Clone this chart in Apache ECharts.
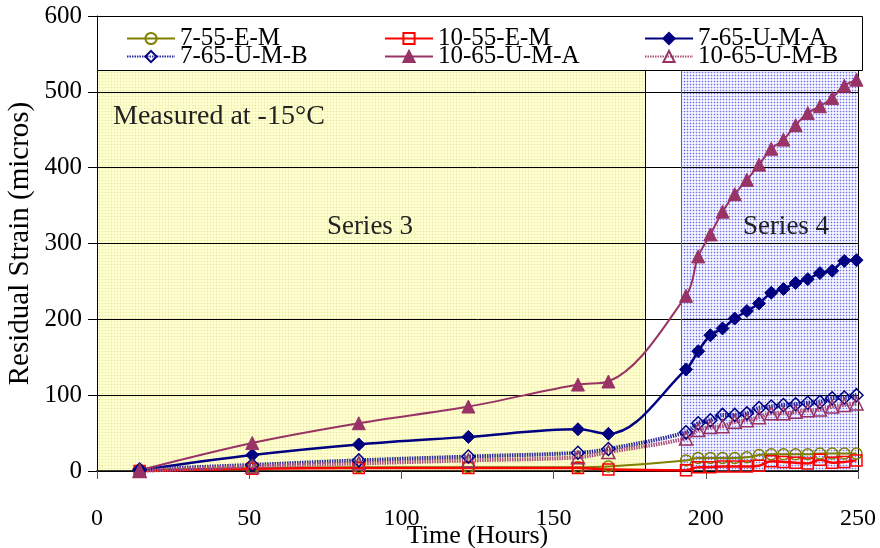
<!DOCTYPE html>
<html>
<head>
<meta charset="utf-8">
<script src="https://cdn.jsdelivr.net/npm/echarts@6/dist/echarts.min.js"></script>
<style>
  html, body { margin: 0; padding: 0; background: #fff; }
  #chart { width: 880px; height: 548px; }
</style>
</head>
<body>
<div id="chart"></div>
<script>
// Elapsed time of each reading (hours)
const hours = [14, 51, 86, 122, 158, 168,
  193.5, 197.5, 201.5, 205.5, 209.5, 213.5, 217.5, 221.5, 225.5, 229.5, 233.5, 237.5, 241.5, 245.5, 249.5];

// Residual strain readings (micros) per specimen
const s7_55_E_M   = [1, 4, 5, 5, 5, 6, 14, 17, 17, 17, 17, 18, 21, 22, 22, 22, 22, 23, 23, 23, 23];
const s10_55_E_M  = [0, 3, 4, 4, 4, 2, 1, 5, 5, 6, 6, 6, 7, 13, 12, 11, 10, 15, 11, 12, 14];
const s7_65_U_M_A = [1, 21, 35, 45, 55, 49, 134, 158, 179, 188, 201, 211, 221, 235, 240, 248, 253, 261, 264, 277, 278];
const s7_65_U_M_B = [2, 8, 14, 19, 24, 29, 51, 63, 67, 74, 74, 76, 83, 85, 87, 88, 90, 91, 96, 97, 100];
const s10_65_U_M_A = [1, 37, 63, 85, 114, 118, 231, 283, 312, 342, 365, 384, 404, 425, 437, 456, 472, 481, 492, 508, 516];
const s10_65_U_M_B = [0, 6, 10, 14, 18, 25, 43, 54, 58, 59, 65, 67, 71, 76, 76, 78, 80, 81, 85, 87, 89];

const seriesNames = ['7-55-E-M', '10-55-E-M', '7-65-U-M-A', '7-65-U-M-B', '10-65-U-M-A', '10-65-U-M-B'];

// Test phases (hours)
const series3Span = [0, 180];
const series4Span = [192, 250];

const xTicks = { min: 0, max: 250, step: 50 };
const yTicks = { min: 0, max: 600, step: 100 };

const FONT = '"Liberation Serif", "Times New Roman", serif';

function pairs(vals) { return hours.map((h, i) => [h, vals[i]]); }

// Fine dotted fills for the two phase bands
function makePattern(bg, line, dot) {
  const c = document.createElement('canvas');
  c.width = 3; c.height = 3;
  const g = c.getContext('2d');
  g.fillStyle = bg; g.fillRect(0, 0, 3, 3);
  g.fillStyle = line;
  g.fillRect(0, 0, 3, 1);
  g.fillRect(0, 0, 1, 3);
  g.fillStyle = dot; g.fillRect(0, 0, 1, 1);
  return c;
}
const yellowFill = makePattern('#ffffd4', '#fbfbc2', '#e4e4ac');
const blueFill = makePattern('#f6f6ff', '#d6d6fc', '#6c6cf0');

const chart = echarts.init(document.getElementById('chart'), null, { renderer: 'canvas' });

function lineSeries(name, vals, opt) {
  return Object.assign({
    name: name,
    type: 'line',
    data: pairs(vals),
    smooth: 0.35,
    z: 2
  }, opt);
}

const styles = [
  { symbol: 'circle', symbolSize: 11, lineStyle: { color: '#808000', width: 2 },
    itemStyle: { color: 'rgba(255,255,255,0)', borderColor: '#808000', borderWidth: 1.5 } },
  { symbol: 'rect', symbolSize: 11, lineStyle: { color: '#ff0000', width: 2.5 },
    itemStyle: { color: 'rgba(255,255,255,0)', borderColor: '#ff0000', borderWidth: 1.5 } },
  { symbol: 'diamond', symbolSize: 13, lineStyle: { color: '#000080', width: 2.5 },
    itemStyle: { color: '#000080', borderColor: '#000080', borderWidth: 1 } },
  { symbol: 'diamond', symbolSize: 13, lineStyle: { color: '#2a2a9c', width: 4, type: [1.5, 1] },
    itemStyle: { color: 'rgba(255,255,255,0)', borderColor: '#000080', borderWidth: 1.5 } },
  { symbol: 'triangle', symbolSize: 13, lineStyle: { color: '#993366', width: 2 },
    itemStyle: { color: '#993366', borderColor: '#993366', borderWidth: 1 } },
  { symbol: 'triangle', symbolSize: 13, lineStyle: { color: '#a8507e', width: 4, type: [1.5, 1] },
    itemStyle: { color: 'rgba(255,255,255,0)', borderColor: '#993366', borderWidth: 1.5 } }
];
const allVals = [s7_55_E_M, s10_55_E_M, s7_65_U_M_A, s7_65_U_M_B, s10_65_U_M_A, s10_65_U_M_B];

const series = [
  // phase bands and their boundary lines
  {
    name: 'phases',
    type: 'line',
    data: [],
    silent: true,
    z: 0,
    markArea: {
      silent: true,
      z: 0,
      data: [
        [{ xAxis: series3Span[0], yAxis: yTicks.min, itemStyle: { color: { image: yellowFill, repeat: 'repeat' } } },
         { xAxis: series3Span[1], yAxis: yTicks.max }],
        [{ xAxis: series4Span[0], yAxis: yTicks.min, itemStyle: { color: { image: blueFill, repeat: 'repeat' } } },
         { xAxis: series4Span[1], yAxis: yTicks.max }]
      ]
    },
    markLine: {
      silent: true,
      z: 1,
      symbol: ['none', 'none'],
      label: { show: false },
      data: [
        { xAxis: series3Span[1], lineStyle: { color: '#000', width: 1, type: 'solid' } },
        { xAxis: series4Span[0], lineStyle: { color: '#666', width: 1, type: 'solid' } },
        { xAxis: series4Span[1], lineStyle: { color: '#000', width: 1, type: 'solid' } }
      ]
    }
  }
].concat(seriesNames.map((n, i) => lineSeries(n, allVals[i], styles[i])));

// one legend per slot so the columns line up
const legendCols = [126, 384, 644];
const legendRows = [26, 44];
const legends = seriesNames.map((n, i) => ({
  data: [n],
  left: legendCols[i % 3],
  top: legendRows[Math.floor(i / 3)],
  padding: 0,
  itemWidth: 48,
  itemHeight: 14,
  selectedMode: false,
  z: 5,
  textStyle: { fontFamily: FONT, fontSize: 25, color: '#000', padding: [0, 0, 0, 0] }
}));

const option = {
  animation: false,
  backgroundColor: '#fff',
  textStyle: { fontFamily: FONT },
  grid: { left: 97, right: 22, top: 16, bottom: 77, show: false, containLabel: false, outerBoundsMode: 'none' },
  legend: legends,
  xAxis: {
    type: 'value',
    min: xTicks.min, max: xTicks.max, interval: xTicks.step,
    z: 1,
    name: 'Time (Hours)',
    nameLocation: 'middle',
    nameGap: 52,
    nameMoveOverlap: false,
    nameTextStyle: { fontFamily: FONT, fontSize: 26, color: '#000' },
    axisLine: { show: true, lineStyle: { color: '#000', width: 1.5 } },
    axisTick: { show: true, inside: false, length: 8, lineStyle: { color: '#555' } },
    axisLabel: { fontFamily: FONT, fontSize: 24, color: '#000', margin: 36 },
    splitLine: { show: false }
  },
  yAxis: {
    type: 'value',
    min: yTicks.min, max: yTicks.max, interval: yTicks.step,
    z: 1,
    name: 'Residual Strain (micros)',
    nameLocation: 'middle',
    nameGap: 62,
    nameMoveOverlap: false,
    nameTextStyle: { fontFamily: FONT, fontSize: 29, color: '#000' },
    axisLine: { show: true, lineStyle: { color: '#000', width: 1 } },
    axisTick: { show: true, inside: false, length: 9, lineStyle: { color: '#000' } },
    axisLabel: { fontFamily: FONT, fontSize: 25, color: '#000', margin: 15 },
    splitLine: { show: true, lineStyle: { color: '#000', width: 1 } }
  },
  graphic: [
    { type: 'rect', z: 3, shape: { x: 97.5, y: 16.5, width: 765, height: 54 },
      style: { fill: '#fff', stroke: '#000', lineWidth: 1 } },
    { type: 'text', z: 3, x: 113, y: 117,
      style: { text: 'Measured at -15°C', font: '28px ' + FONT, fill: '#222',
               align: 'left', verticalAlign: 'middle', textAlign: 'left', textVerticalAlign: 'middle' } },
    { type: 'text', z: 3, x: 370, y: 227,
      style: { text: 'Series 3', font: '27px ' + FONT, fill: '#222',
               align: 'center', verticalAlign: 'middle', textAlign: 'center', textVerticalAlign: 'middle' } },
    { type: 'text', z: 3, x: 786, y: 227,
      style: { text: 'Series 4', font: '27px ' + FONT, fill: '#222',
               align: 'center', verticalAlign: 'middle', textAlign: 'center', textVerticalAlign: 'middle' } }
  ],
  series: series
};

chart.setOption(option);
</script>
</body>
</html>
